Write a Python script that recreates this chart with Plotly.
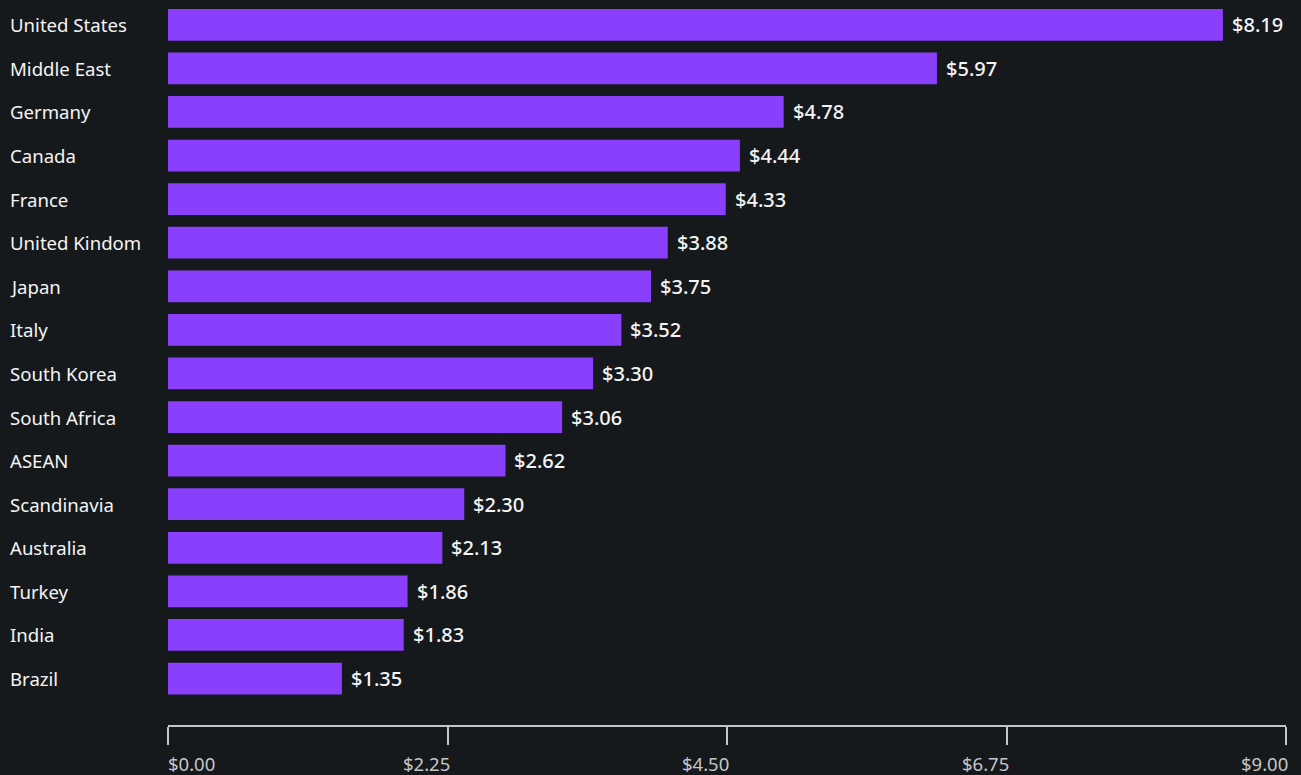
import plotly.graph_objects as go

categories = ["United States", "Middle East", "Germany", "Canada", "France",
              "United Kindom", "Japan", "Italy", "South Korea", "South Africa",
              "ASEAN", "Scandinavia", "Australia", "Turkey", "India", "Brazil"]
values = [8.19, 5.97, 4.78, 4.44, 4.33, 3.88, 3.75, 3.52, 3.30, 3.06,
          2.62, 2.30, 2.13, 1.86, 1.83, 1.35]
tick_values = [0, 2.25, 4.5, 6.75, 9]
tick_labels = ["$0.00", "$2.25", "$4.50", "$6.75", "$9.00"]

BG = "#16191c"
BAR = "#8a3ffc"
TXT = "#f4f4f4"
AXIS = "#c6c6c6"
FONT = "Noto Sans"

fig = go.Figure()
fig.add_trace(go.Bar(
    x=values, y=categories, orientation="h",
    marker=dict(color=BAR, line=dict(width=0)),
    width=0.73, xaxis="x", yaxis="y", hoverinfo="skip",
))
# invisible trace to activate the tick axis
fig.add_trace(go.Scatter(x=[0, 9], y=[categories[0], categories[0]], xaxis="x2",
                         yaxis="y", mode="lines", line=dict(width=0),
                         hoverinfo="skip"))

annotations = []
for c, v in zip(categories, values):
    annotations.append(dict(
        x=v, y=c, xref="x", yref="y", text=f"${v:.2f}", showarrow=False,
        xanchor="left", yanchor="middle", xshift=7,
        font=dict(family=FONT, size=20, color=TXT, weight=500),
    ))
    annotations.append(dict(
        x=0, y=c, xref="paper", yref="y", text=c, showarrow=False,
        xanchor="left", yanchor="middle", xshift=-160,
        font=dict(family=FONT, size=18.6, color=TXT),
    ))
for i, (tv, tl) in enumerate(zip(tick_values, tick_labels)):
    annotations.append(dict(
        x=tv, y=0, xref="x2", yref="paper", text=tl, showarrow=False,
        xanchor="left" if i == 0 else "right",
        xshift=-2 if i == 0 else 4,
        yanchor="middle", yshift=-37,
        font=dict(family=FONT, size=18.5, color=AXIS),
    ))

fig.update_layout(
    width=1301, height=775,
    paper_bgcolor=BG, plot_bgcolor=BG,
    margin=dict(l=168, r=15, t=3, b=49),
    showlegend=False,
    hovermode=False,
    xaxis=dict(range=[0, 8.68], visible=False, showgrid=False, zeroline=False,
               fixedrange=True),
    xaxis2=dict(range=[0, 9], overlaying="x", anchor="free", position=0,
                side="bottom", showline=True, linecolor=AXIS, linewidth=1.5,
                ticks="outside", ticklen=18, tickwidth=1.5, tickcolor=AXIS,
                tickvals=tick_values, showticklabels=False, showgrid=False,
                zeroline=False),
    yaxis=dict(domain=[0.0355, 1], range=[15.5, -0.5], showticklabels=False,
               showgrid=False, zeroline=False, showline=False, ticks=""),
    annotations=annotations,
)

fig.write_html("out.html",
               config={"displayModeBar": False},
               post_script="document.body.style.margin='0';"
                           "document.body.style.background='%s';" % BG)
